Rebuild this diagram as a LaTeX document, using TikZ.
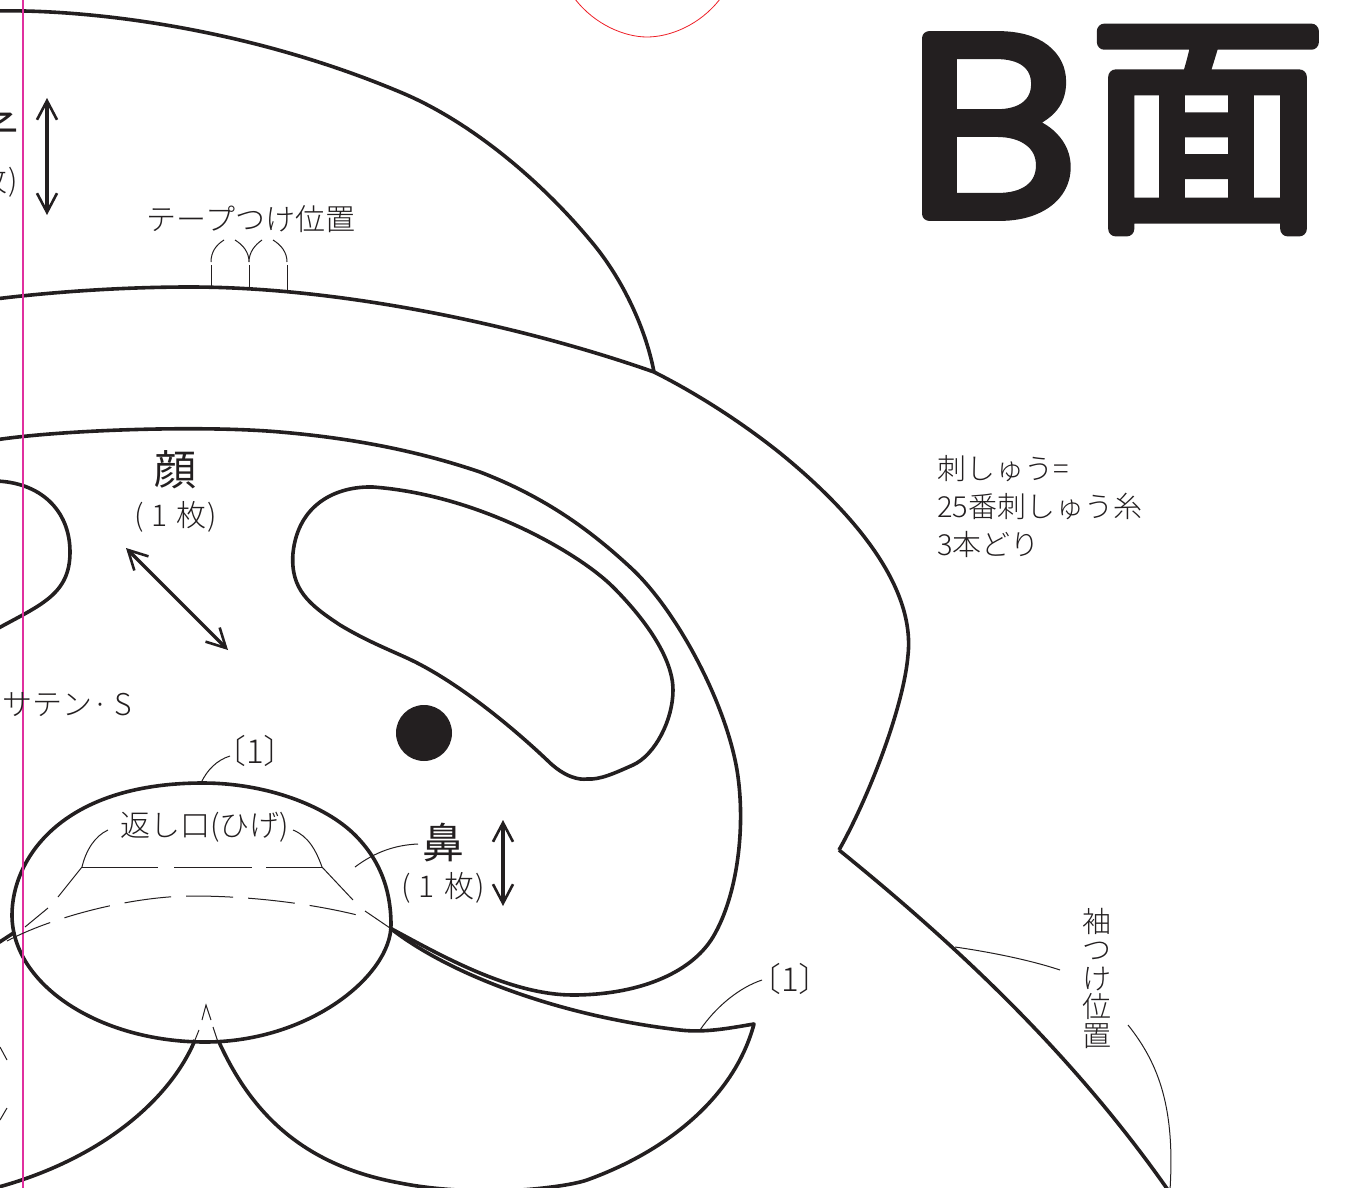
\documentclass[tikz,border=0pt]{standalone}
\usepackage{fontspec}
\usetikzlibrary{arrows.meta}
\setmainfont{Noto Sans CJK JP Light}
\newfontfamily\heavyfont{Noto Sans CJK JP}
\newfontfamily\latinlight{Poppins Light}
\definecolor{ink}{HTML}{231F20}
\definecolor{pinkline}{HTML}{E0309F}
\definecolor{redline}{HTML}{ED1C24}
\newcommand{\fs}[1]{\fontsize{#1}{#1}\selectfont}
\newcommand{\strk}[2]{\special{pdf:code q 0.137 0.122 0.125 RG #1 w 1 j 1 J 2 Tr}#2\special{pdf:code 0 Tr Q}}
\newcommand{\onesheet}{(\kern8pt 1\kern9pt 枚\kern1pt)}
\tikzset{
  x=1pt,y=-1pt,
  cut/.style={draw=ink,line width=3.6pt,line join=round},
  thin/.style={draw=ink,line width=1pt},
  dir/.style={draw=ink,line width=3.2pt,{Straight Barb[length=19pt,width=20pt,line width=2.6pt]}-{Straight Barb[length=19pt,width=20pt,line width=2.6pt]}},
  lab/.style={text=ink,inner sep=0pt,outer sep=0pt,font=\fs{30}},
  note/.style={text=ink,inner sep=0pt,outer sep=0pt,font=\fs{33}},
  big/.style={text=ink,inner sep=0pt,font=\heavyfont\fs{42}},
}
\begin{document}
\begin{tikzpicture}
\useasboundingbox (0,0) rectangle (1357,1188);
\clip (0,0) rectangle (1357,1188);
% hat top
\draw[cut] (-5,11) .. controls (80,9) and (240,25) .. (400,92) .. controls (470,121) and (540,180) .. (590,240) .. controls (620,275) and (645,325) .. (654,372);
% hat brim + sleeve
\draw[cut] (-5,299) .. controls (60,291) and (130,287) .. (190,287) .. controls (340,287) and (520,325) .. (654,372) .. controls (700,395) and (745,425) .. (780,453) .. controls (860,518) and (915,590) .. (908,655) .. controls (904,705) and (870,795) .. (839,850);
\draw[cut] (839,850) .. controls (950,940) and (1070,1050) .. (1168,1190);
% face
\draw[cut] (-5,440) .. controls (60,430) and (200,425) .. (280,432) .. controls (350,438) and (415,450) .. (480,472) .. controls (545,497) and (590,530) .. (630,567) .. controls (675,608) and (725,700) .. (737,770) .. controls (746,825) and (738,895) .. (713,937) .. controls (690,975) and (635,995) .. (573,995) .. controls (510,995) and (440,955) .. (390,928);
% whisker right
\draw[cut] (390,928) .. controls (450,975) and (560,1016) .. (680,1030) .. controls (705,1033) and (730,1028) .. (754,1024) .. controls (735,1095) and (670,1150) .. (587,1180) .. controls (570,1186) and (520,1192) .. (480,1191) .. controls (450,1190) and (425,1188) .. (400,1183) .. controls (300,1165) and (250,1110) .. (219,1042);
% whisker left
\draw[cut] (195,1040) .. controls (170,1100) and (100,1160) .. (-5,1188);
\draw[cut] (-5,945) -- (15,932);
% nose
\draw[cut] (203,783) .. controls (265,783) and (325,805) .. (355,835) .. controls (380,860) and (391,890) .. (391,925) .. controls (391,975) and (310,1042) .. (205,1042) .. controls (100,1042) and (12,985) .. (12,915) .. controls (12,860) and (60,783) .. (203,783) -- cycle;
% eyes
\draw[cut] (373,487) .. controls (335,486) and (298,505) .. (293,553) .. controls (290,590) and (310,605) .. (340,625) .. controls (365,640) and (385,648) .. (407,658) .. controls (455,680) and (510,725) .. (547,760) .. controls (565,778) and (580,780) .. (587,779) .. controls (600,780) and (615,773) .. (633,765) .. controls (655,755) and (673,720) .. (673,690) .. controls (673,660) and (648,622) .. (613,587) .. controls (580,554) and (480,495) .. (373,487) -- cycle;
\draw[cut] (-5,481) .. controls (40,482) and (70,510) .. (70,552) .. controls (70,595) and (40,605) .. (-5,630);
\fill[ink] (424,733) circle[radius=28];
% grain arrows
\draw[dir] (47,98) -- (47,215);
\draw[dir] (126,548) -- (228,650);
\draw[dir] (503,820) -- (503,906);
% red and magenta
\draw[redline,line width=.8pt] (575,-1) .. controls (595,25) and (625,37) .. (647,37) .. controls (670,37) and (700,25) .. (720,-1);
\draw[pinkline,line width=2.2pt] (23,0) -- (23,1188);
% dashed lines
\draw[thin] (82,867) -- (158,867) (174,867) -- (252,867) (266,867) -- (322,867);
\draw[thin] (82,867) -- (58,897) (48,908) -- (25,927);
\draw[thin] (322,867) -- (353,900) (365,911) -- (390,928);
\draw[thin,dash pattern=on 47pt off 15pt] (7,941) .. controls (50,918) and (130,896) .. (193,896) .. controls (256,896) and (320,905) .. (365,917);
\draw[thin] (199,1030) -- (193,1045) (202,1020) -- (206,1005) -- (211,1020) (213,1027) -- (218,1042);
\draw[thin] (0,1047) -- (7,1060) (7,1108) -- (0,1120);
% tape marks
\draw[thin] (211,289) -- (211,265) (249,289) -- (249,265) (287,291) -- (287,265);
\draw[thin] (211,262) .. controls (211,252) and (216,245) .. (224,240);
\draw[thin] (235,240) .. controls (243,245) and (249,252) .. (249,262) .. controls (249,252) and (255,245) .. (262,240);
\draw[thin] (273,240) .. controls (281,245) and (287,252) .. (287,262);
% leaders
\draw[thin] (108,830) .. controls (95,836) and (86,850) .. (82,867);
\draw[thin] (293,830) .. controls (308,836) and (316,850) .. (322,867);
\draw[thin] (355,867) .. controls (375,852) and (395,845) .. (418,844);
\draw[thin] (201,783) .. controls (207,770) and (217,760) .. (230,756);
\draw[thin] (700,1030) .. controls (715,1008) and (738,988) .. (762,980);
\draw[thin] (955,947) .. controls (990,952) and (1030,960) .. (1060,970);
\draw[thin] (1128,1025) .. controls (1160,1065) and (1175,1110) .. (1170,1190);
% texts
\node[big,anchor=east] (capHat) at (19,130) {帽子};
\node[lab,anchor=east] (subHat) at (18,182) {\onesheet};
\node[lab] (tape) at (251,219) {テープつけ位置};
\node[lab,anchor=west,align=left,font=\fontsize{29}{38}\selectfont] (emb) at (937,507) {刺しゅう=\\25番刺しゅう糸\\3本どり};
\node[big] (face) at (175,470) {顔};
\node[lab] (faceSub) at (175.5,517) {\onesheet};
\node[lab,anchor=west] (satin) at (2,705) {サテン· S};
\node[note] (noteA) at (255,751) {〔1〕};
\node[note] (noteB) at (790,979) {〔1〕};
\node[lab] (open) at (204.5,827) {返し口(ひげ)};
\node[big] (nose) at (443,843) {鼻};
\node[lab] (noseSub) at (443,888) {\onesheet};
\node[lab,align=center,font=\fontsize{29}{28.5}\selectfont] (sleeve) at (1097,978) {袖\\つ\\け\\位\\置};
% title
\node[text=ink,inner sep=0pt,font={\latinlight\fs{253}},xscale=1.13,transform shape] (titleB) at (992,126) {\strk{13}{B}};
\node[text=ink,inner sep=0pt,font={\fs{236}}] (titleM) at (1207.5,130) {\strk{15}{面}};
\end{tikzpicture}
\end{document}
